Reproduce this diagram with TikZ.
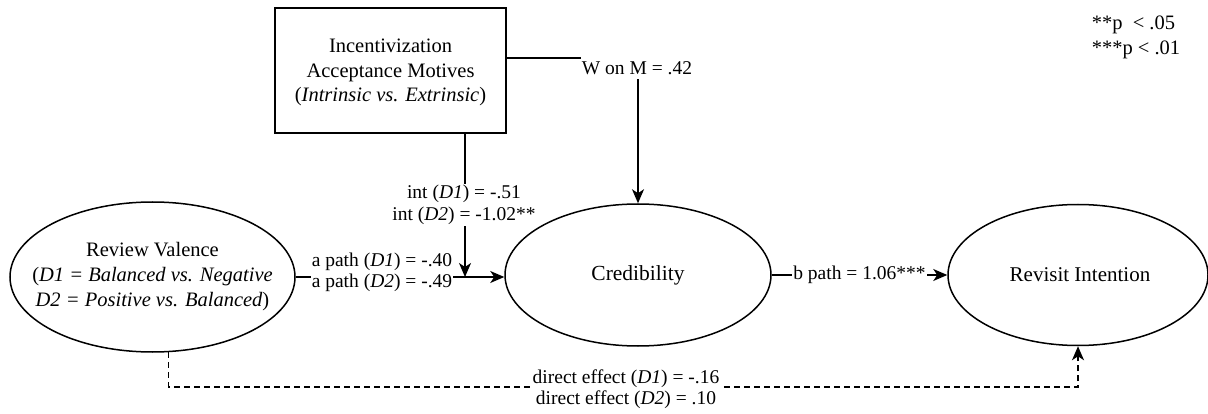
\documentclass[tikz,border=0pt]{standalone}
\usepackage{fontspec}
\setmainfont{Liberation Serif}
\usetikzlibrary{shapes.geometric,arrows.meta,calc}
\begin{document}
\begin{tikzpicture}[x=1pt,y=-1pt,
  line width=1.5pt,
  big/.style={font=\fontsize{20.5}{25}\selectfont, align=center},
  lab/.style={font=\fontsize{19.5}{21.5}\selectfont, fill=white, inner sep=1pt, align=center},
  oval/.style={draw, ellipse, inner sep=0pt},
  arr/.style={-{Stealth[length=14pt,width=12pt,inset=4pt]}},
  dsh/.style={dash pattern=on 6pt off 4pt}
]
\useasboundingbox (0,0) rectangle (1208,414);

% nodes
\node[oval, minimum width=285pt, minimum height=150pt] (rv) at (152.5,277) {};
\node[big] (rvt) at (rv.center) {Review Valence\\(\textit{D1 = Balanced vs. Negative}\\\textit{D2 = Positive vs. Balanced})};
\node[oval, minimum width=266pt, minimum height=142pt] (cr) at (638,275) {};
\node[big, font=\fontsize{21.5}{25}\selectfont] (crt) at (cr.center) {Credibility};
\node[oval, minimum width=260pt, minimum height=141pt] (ri) at (1078,275) {};
\node[big, font=\fontsize{21}{25}\selectfont] (rit) at (1080,275) {Revisit Intention};
\node[draw, rectangle, minimum width=231pt, minimum height=125pt, inner sep=0pt] (bx) at (390.5,70.5) {};
\node[big, font=\fontsize{20.5}{24.5}\selectfont] (bxt) at (390.5,72.5) {Incentivization\\Acceptance Motives\\(\textit{Intrinsic vs. Extrinsic})};

% helper coordinates
\coordinate (j) at (465,277);
\coordinate (wc) at (638,58);
\coordinate (dy) at (0,387);

% connectors
\draw[arr] (rv.east) -- (rv.east -| cr.west);
\node[lab] (la) at (382,272.5) {a path (\textit{D1}) = -.40\\a path (\textit{D2}) = -.49};

\draw[arr] (bx.south -| j) -- (j);
\node[lab] (li) at (464,205) {int (\textit{D1}) = -.51\\int (\textit{D2}) = -1.02**};

\draw[arr] (wc -| bx.east) -- (wc) -- (cr.north);
\node[lab, inner ysep=4pt] (lw) at (637,68) {W on M = .42};

\draw[arr] (cr.east) -- (ri.west);
\node[lab] (lb) at ($(cr.east)!0.5!(ri.west)$) {b path = 1.06***};

\draw[arr, dsh] (rv.-78) |- (dy -| ri.south) -- (ri.south);
\node[lab] (ld) at (626,389) {direct effect (\textit{D1}) = -.16\\direct effect (\textit{D2}) = .10};

% footnote
\node[font=\fontsize{20.5}{25}\selectfont, align=left, anchor=west, inner sep=0pt] (fn) at (1091,37.5) {**p\ \ < .05\\***p < .01};
\end{tikzpicture}
\end{document}
